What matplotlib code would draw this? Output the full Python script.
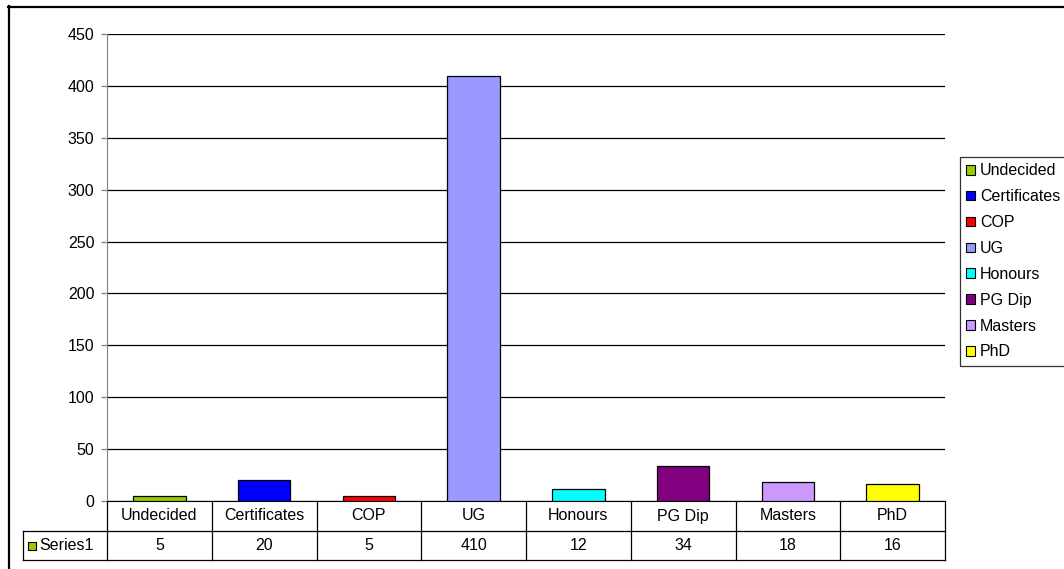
import numpy as np
import matplotlib
matplotlib.use('Agg')
import matplotlib.pyplot as plt
from matplotlib.patches import Patch, Rectangle
from matplotlib.lines import Line2D
from matplotlib.transforms import blended_transform_factory

plt.rcParams['font.family'] = ['Liberation Sans', 'DejaVu Sans']
FS = 11.5

# qualification categories and counts
categories = ['Undecided', 'Certificates', 'COP', 'UG', 'Honours', 'PG Dip', 'Masters', 'PhD']
values = [5, 20, 5, 410, 12, 34, 18, 16]
colors = ['#99CC00', '#0000FF', '#FF0000', '#9999FF', '#00FFFF', '#800080', '#CC99FF', '#FFFF00']
series_name = 'Series1'
yticks = np.arange(0, 451, 50)

W, H = 1064, 569
fig = plt.figure(figsize=(W / 100, H / 100), dpi=100)
ax = fig.add_axes([107 / W, 1 - 501 / H, (945 - 107) / W, (501 - 34) / H])

x = np.arange(len(categories))
ax.bar(x, values, width=0.5, color=colors, edgecolor='black', linewidth=0.9, zorder=3)

ax.set_xlim(-0.5, len(categories) - 0.5)
ax.set_ylim(0, 450)
ax.set_yticks(yticks)
ax.set_xticks([])
ax.yaxis.grid(True, color='black', linewidth=0.9)
ax.set_axisbelow(True)
ax.tick_params(axis='y', length=4, width=0.9, color='#808080', pad=5, labelsize=FS)
for s in ['top', 'right']:
    ax.spines[s].set_visible(False)
ax.spines['left'].set_color('#808080')
ax.spines['bottom'].set_color('black')

# data table under the plot
trans = blended_transform_factory(ax.transData, ax.transAxes)
ax_h = 501 - 34
col_w = (945 - 107) / len(categories)
rh1 = 30 / ax_h
rh2 = 29 / ax_h
left_cell = -0.5 - 84 / col_w
right = len(categories) - 0.5
lk = dict(color='black', linewidth=0.9, transform=trans, clip_on=False)
ax.add_line(Line2D([left_cell, right], [-rh1, -rh1], **lk))
ax.add_line(Line2D([left_cell, right], [-rh1 - rh2, -rh1 - rh2], **lk))
ax.add_line(Line2D([left_cell, left_cell], [-rh1, -rh1 - rh2], **lk))
for i in range(len(categories) + 1):
    ax.add_line(Line2D([i - 0.5, i - 0.5], [0, -rh1 - rh2], **lk))
for i, (c, v) in enumerate(zip(categories, values)):
    ax.text(i, -rh1 / 2, c, transform=trans, ha='center', va='center', fontsize=FS)
    ax.text(i, -rh1 - rh2 / 2, str(v), transform=trans, ha='center', va='center', fontsize=FS)

# series key in the row label cell
fig.add_artist(Rectangle((28 / W, 1 - 550 / H), 8 / W, 8 / H, transform=fig.transFigure,
                         facecolor=colors[0], edgecolor='black', linewidth=0.8))
fig.text(39 / W, 1 - 546 / H, series_name, ha='left', va='center', fontsize=FS)

# legend
handles = [Patch(facecolor=c, edgecolor='black', linewidth=0.8) for c in colors]
leg = fig.legend(handles, categories, loc='upper left', bbox_to_anchor=(960 / W, 1 - 157 / H),
                 frameon=True, fancybox=False, fontsize=FS, handlelength=0.55, handleheight=0.55,
                 handletextpad=0.3, labelspacing=0.68, borderpad=0.4, borderaxespad=0)
leg.get_frame().set_edgecolor('black')
leg.get_frame().set_linewidth(0.9)

# outer chart frame
fig.add_artist(Line2D([8.5 / W, 8.5 / W], [0, 1 - 6 / H], color='black', linewidth=1.6,
                      transform=fig.transFigure))
fig.add_artist(Line2D([8 / W, 1], [1 - 6.5 / H, 1 - 6.5 / H], color='black', linewidth=1.6,
                      transform=fig.transFigure))

fig.savefig('out.png', dpi=100)
